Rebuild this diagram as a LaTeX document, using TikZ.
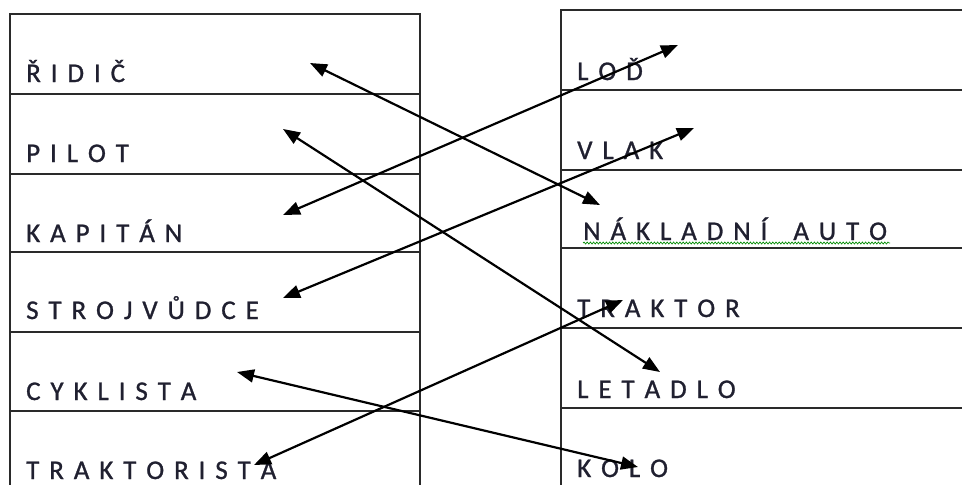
\documentclass[tikz,border=0pt]{standalone}
\usepackage{fontspec}
\setmainfont{Carlito}[FakeBold=1]
\usetikzlibrary{arrows.meta,decorations.pathmorphing}
\def\lsp#1{\lspA#1\relax}
\def\lspA#1{\ifx#1\relax\else#1\kern9.9pt\expandafter\lspA\fi}
\definecolor{txt}{HTML}{202030}
\definecolor{grid}{HTML}{2A2A2A}
\tikzset{
  lbl/.style={anchor=base west, inner sep=0pt, font=\fontsize{27pt}{27pt}\selectfont, text=txt},
  tbl/.style={draw=grid, line width=1.5pt},
  conn/.style={line width=2.2pt, {Triangle[length=17pt,width=13pt]}-{Triangle[length=17pt,width=13pt]}},
  squig/.style={draw=green!55!black, line width=0.7pt, decorate, decoration={snake, amplitude=1pt, segment length=3.2pt}}
}
\begin{document}
\begin{tikzpicture}[x=1pt,y=-1pt]
\useasboundingbox[fill=white] (0,0) rectangle (962,485);
% left table
\draw[tbl] (10,485) -- (10,14) -- (420,14) -- (420,485);
\foreach \y in {94,174,252,332,411} \draw[tbl] (10,\y) -- (420,\y);
% right table
\draw[tbl] (561,485) -- (561,10) -- (962,10);
\foreach \y in {90,170,248,328,408} \draw[tbl] (561,\y) -- (962,\y);
% labels
\node[lbl] (l1) at (26,82) {\lsp{ŘIDIČ}};
\node[lbl] (l2) at (26,162) {\lsp{PILOT}};
\node[lbl] (l3) at (26,242) {\lsp{KAPITÁN}};
\node[lbl] (l4) at (26,319) {\lsp{STROJVŮDCE}};
\node[lbl] (l5) at (26,400) {\lsp{CYKLISTA}};
\node[lbl] (l6) at (26,479) {\lsp{TRAKTORISTA}};
\node[lbl] (r1) at (577,80) {\lsp{LOĎ}};
\node[lbl] (r2) at (577,159) {\lsp{VLAK}};
\node[lbl] (r3) at (583,240) {\lsp{NÁKLADNÍ~AUTO}};
\node[lbl] (r4) at (577,317) {\lsp{TRAKTOR}};
\node[lbl] (r5) at (577,398) {\lsp{LETADLO}};
\node[lbl] (r6) at (577,477) {\lsp{KOLO}};
\coordinate (sqa) at (583,243);
\coordinate (sqb) at (890,243);
\draw[squig] (sqa) -- (sqb);
% arrow end points
\coordinate (a1) at (310,63);  \coordinate (b1) at (600,205);
\coordinate (a2) at (283,129); \coordinate (b2) at (660,372);
\coordinate (a3) at (283,215); \coordinate (b3) at (678,45);
\coordinate (a4) at (283,298); \coordinate (b4) at (694,128);
\coordinate (a5) at (237,372); \coordinate (b5) at (638,467);
\coordinate (a6) at (254,465); \coordinate (b6) at (623,300);
\foreach \i in {1,...,6} \draw[conn] (a\i) -- (b\i);
\end{tikzpicture}
\end{document}
